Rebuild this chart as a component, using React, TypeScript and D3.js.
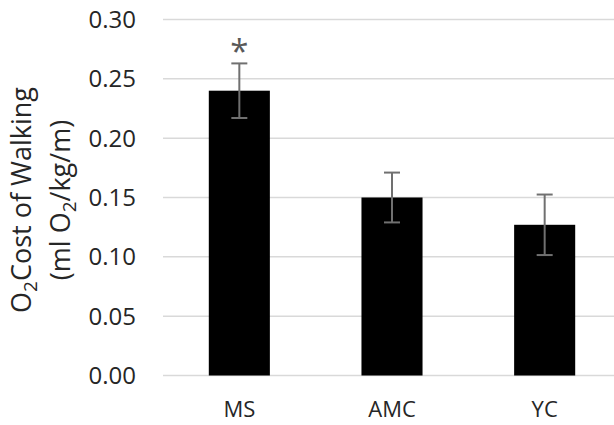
import React from 'react';
import * as d3 from 'd3';

const groups = ['MS', 'AMC', 'YC'];
const means = [0.24, 0.15, 0.127];
const errors = [0.023, 0.021, 0.0255];
const yTicks = [0, 0.05, 0.1, 0.15, 0.2, 0.25, 0.3];
const significant = [true, false, false];

const W = 614;
const H = 425;
const margin = { top: 19.5, right: -7, bottom: 49.5, left: 163 };

export default function App() {
    const x = d3.scaleBand()
        .domain(groups)
        .range([margin.left, W - margin.right])
        .paddingInner(0.6)
        .paddingOuter(0.3);

    const y = d3.scaleLinear()
        .domain([0, 0.3])
        .range([H - margin.bottom, margin.top]);

    const font = "'Open Sans', 'Noto Sans', sans-serif";
    const textColor = '#262626';

    return (
        <svg width={W} height={H} style={{ position: 'absolute', left: 0, top: 0, background: '#fff' }}
            fontFamily={font}>
            {/* gridlines + tick labels */}
            {yTicks.map(t => (
                <g key={t}>
                    <line x1={margin.left} x2={W} y1={y(t)} y2={y(t)} stroke="#d9d9d9" strokeWidth={1.5} />
                    <text x={136} y={y(t)} dy="0.36em" textAnchor="end" fontSize={24} fill={textColor}>
                        {t.toFixed(2)}
                    </text>
                </g>
            ))}

            {/* bars */}
            {groups.map((g, i) => (
                <rect key={g} x={x(g)} y={y(means[i])} width={x.bandwidth()}
                    height={y(0) - y(means[i])} fill="#000" />
            ))}

            {/* error bars */}
            {groups.map((g, i) => {
                const cx = (x(g) ?? 0) + x.bandwidth() / 2;
                const hi = y(means[i] + errors[i]);
                const lo = y(means[i] - errors[i]);
                return (
                    <g key={g} stroke="#707070" strokeWidth={2}>
                        <line x1={cx} x2={cx} y1={hi} y2={lo} />
                        <line x1={cx - 8} x2={cx + 8} y1={hi} y2={hi} />
                        <line x1={cx - 8} x2={cx + 8} y1={lo} y2={lo} />
                    </g>
                );
            })}

            {/* significance marker */}
            {groups.map((g, i) => significant[i] && (
                <text key={g} x={(x(g) ?? 0) + x.bandwidth() / 2} y={y(means[i] + errors[i])}
                    textAnchor="middle" fontSize={33} fill="#595959">*</text>
            ))}

            {/* category labels */}
            {groups.map(g => (
                <text key={g} x={(x(g) ?? 0) + x.bandwidth() / 2} y={409} dy="0.36em"
                    textAnchor="middle" fontSize={22} fill={textColor}>{g}</text>
            ))}

            {/* y axis title */}
            <g transform="translate(0,200) rotate(-90)" fill={textColor} fontSize={27}>
                <text x={0} y={31} textAnchor="middle">
                    O<tspan fontSize={19} dy={6}>2</tspan><tspan dy={-6}>Cost of Walking</tspan>
                </text>
                <text x={0} y={70} textAnchor="middle">
                    (ml O<tspan fontSize={19} dy={6}>2</tspan><tspan dy={-6}>/kg/m)</tspan>
                </text>
            </g>
        </svg>
    );
}
